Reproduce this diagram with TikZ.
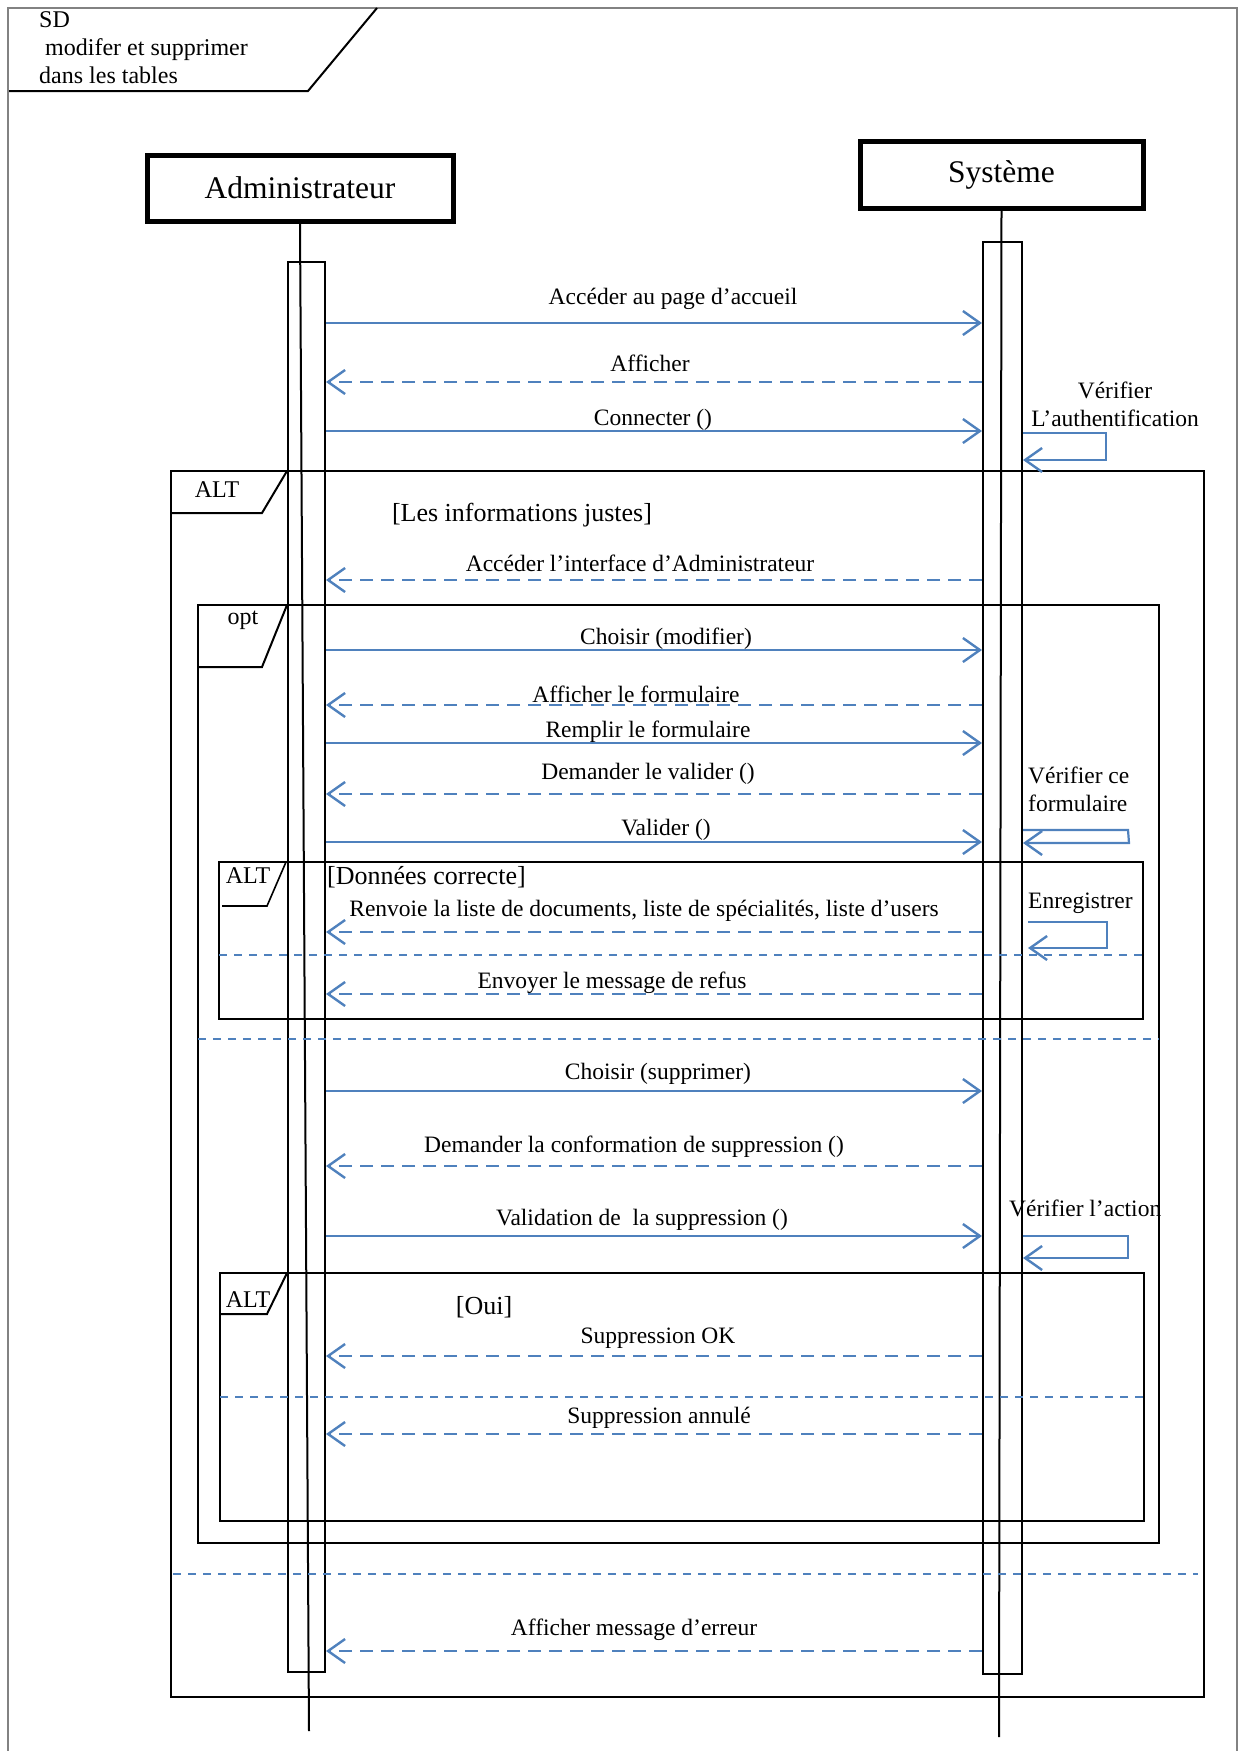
\documentclass[tikz,border=0pt]{standalone}
\usepackage{fontspec}
\setmainfont{Liberation Serif}
\usetikzlibrary{arrows.meta}
\definecolor{msgblue}{RGB}{79,129,189}
\definecolor{framegray}{RGB}{130,130,130}
\begin{document}
\begin{tikzpicture}[x=1pt,y=-1pt,
  sync/.style={draw=msgblue, line width=2.2pt, -{Straight Barb[length=17pt,width=24pt,line width=2.4pt]}},
  reply/.style={sync, dash pattern=on 13pt off 8pt},
  divider/.style={draw=msgblue, line width=1.6pt, dash pattern=on 8pt off 7pt},
  lbl/.style={font=\fontsize{23.5}{28}\selectfont, inner sep=0pt},
  guard/.style={font=\fontsize{26}{30}\selectfont, inner sep=0pt},
  tagtxt/.style={font=\fontsize{24}{28}\selectfont, inner sep=0pt},
  actor/.style={draw, line width=5pt, font=\fontsize{31.5}{36}\selectfont, inner sep=0pt},
  act/.style={draw, line width=2pt, inner sep=0pt},
  life/.style={draw, line width=2pt},
  frm/.style={draw, line width=2pt}
]
\useasboundingbox (0,0) rectangle (1242,1751);
% outer SD frame
\draw[framegray, line width=2.5pt] (8,1751) -- (8,8) -- (1237,8) -- (1237,1751);
\draw[line width=2pt] (9,91) -- (308,91) -- (377,8);
\node[tagtxt, anchor=base west] (sd1) at (39,27) {SD};
\node[tagtxt, anchor=base west] (sd2) at (45,55) {modifer et supprimer};
\node[tagtxt, anchor=base west] (sd3) at (39,83) {dans les tables};

% actors
\node[actor, minimum width=306pt, minimum height=66pt] (admin) at (300,188) {Administrateur};
\node[actor, minimum width=283pt, minimum height=67pt] (sys) at (1001.5,174.5) {Système};

% lifelines
\coordinate (aend) at (309,1731);
\coordinate (send) at (999,1737);
\draw[life] (admin.south) -- (aend);
\draw[life] (sys.south) -- (send);

% activation boxes
\node[act, minimum width=37pt, minimum height=1410pt] (aact) at (306.5,967) {};
\node[act, minimum width=39pt, minimum height=1432pt] (sact) at (1002.5,958) {};

% frames
\draw[frm, line width=2.3pt] (171,471) rectangle (1204,1697);
\draw[frm] (171,513) -- (262,513) -- (287,471);
\node[tagtxt] (alt0) at (217,490) {ALT};
\node[guard] (g0) at (522,515) {[Les informations justes]};

\draw[frm] (198,605) rectangle (1159,1543);
\draw[frm] (198,667) -- (262,667) -- (287,605);
\node[tagtxt] (opt) at (243,620) {opt};

\draw[frm, line width=1.4pt] (219,862) rectangle (1143,1019);
\draw[frm, line width=1.6pt] (222,906) -- (267,906) -- (286,862);
\node[tagtxt] (alt1) at (248,876) {ALT};
\node[guard, anchor=west] (g1) at (327,877) {[Données correcte]};

\draw[frm] (220,1273) rectangle (1144,1521);
\draw[frm] (219,1314) -- (267,1314) -- (287,1273);
\node[tagtxt] (alt2) at (248,1300) {ALT};
\node[guard] (g2) at (484,1307) {[Oui]};

% dividers
\coordinate (d1a) at (219,955);  \coordinate (d1b) at (1143,955);
\coordinate (d2a) at (198,1039); \coordinate (d2b) at (1159,1039);
\coordinate (d3a) at (220,1397); \coordinate (d3b) at (1144,1397);
\coordinate (d4a) at (173,1574); \coordinate (d4b) at (1198,1574);
\draw[divider] (d1a) -- (d1b);
\draw[divider] (d2a) -- (d2b);
\draw[divider] (d3a) -- (d3b);
\draw[divider] (d4a) -- (d4b);

% message levels
\coordinate (m1) at (0,323);
\coordinate (m2) at (0,382);
\coordinate (m3) at (0,431);
\coordinate (m4) at (0,580);
\coordinate (m5) at (0,650);
\coordinate (m6) at (0,705);
\coordinate (m7) at (0,743);
\coordinate (m8) at (0,794);
\coordinate (m9) at (0,842);
\coordinate (m10) at (0,932);
\coordinate (m11) at (0,994);
\coordinate (m12) at (0,1091);
\coordinate (m13) at (0,1166);
\coordinate (m14) at (0,1236);
\coordinate (m15) at (0,1356);
\coordinate (m16) at (0,1434);
\coordinate (m17) at (0,1651);

\draw[sync]  (aact.east |- m1) -- (sact.west |- m1);
\node[lbl] (l1) at (673,299) {Accéder au page d’accueil};
\draw[reply] (sact.west |- m2) -- (aact.east |- m2);
\node[lbl] (l2) at (650,363) {Afficher};
\draw[sync]  (aact.east |- m3) -- (sact.west |- m3);
\node[lbl] (l3) at (653,420) {Connecter ()};
\draw[reply] (sact.west |- m4) -- (aact.east |- m4);
\node[lbl] (l4) at (640,563) {Accéder l’interface d’Administrateur};
\draw[sync]  (aact.east |- m5) -- (sact.west |- m5);
\node[lbl] (l5) at (666,639) {Choisir (modifier)};
\draw[reply] (sact.west |- m6) -- (aact.east |- m6);
\node[lbl] (l6) at (636,694) {Afficher le formulaire};
\draw[sync]  (aact.east |- m7) -- (sact.west |- m7);
\node[lbl] (l7) at (648,732) {Remplir le formulaire};
\draw[reply] (sact.west |- m8) -- (aact.east |- m8);
\node[lbl] (l8) at (648,774) {Demander le valider ()};
\draw[sync]  (aact.east |- m9) -- (sact.west |- m9);
\node[lbl] (l9) at (666,830) {Valider ()};
\draw[reply] (sact.west |- m10) -- (aact.east |- m10);
\node[lbl] (l10) at (644,911) {Renvoie la liste de documents, liste de spécialités, liste d’users};
\draw[reply] (sact.west |- m11) -- (aact.east |- m11);
\node[lbl] (l11) at (612,983) {Envoyer le message de refus};
\draw[sync]  (aact.east |- m12) -- (sact.west |- m12);
\node[lbl] (l12) at (658,1074) {Choisir (supprimer)};
\draw[reply] (sact.west |- m13) -- (aact.east |- m13);
\node[lbl] (l13) at (634,1147) {Demander la conformation de suppression ()};
\draw[sync]  (aact.east |- m14) -- (sact.west |- m14);
\node[lbl] (l14) at (642,1220) {Validation de \ la suppression ()};
\draw[reply] (sact.west |- m15) -- (aact.east |- m15);
\node[lbl] (l15) at (658,1338) {Suppression OK};
\draw[reply] (sact.west |- m16) -- (aact.east |- m16);
\node[lbl] (l16) at (659,1418) {Suppression annulé};
\draw[reply] (sact.west |- m17) -- (aact.east |- m17);
\node[lbl] (l17) at (634,1630) {Afficher message d’erreur};

% self messages
\coordinate (s1a) at (1106,433); \coordinate (s1b) at (1106,460);
\draw[sync] (sact.east |- s1a) -- (s1a) -- (s1b) -- (sact.east |- s1b);
\node[lbl, align=center] (v1) at (1115,404) {Vérifier\\L’authentification};

\coordinate (s2a) at (1128,830); \coordinate (s2b) at (1129,843);
\draw[sync] (sact.east |- s2a) -- (s2a) -- (s2b) -- (sact.east |- s2b);
\node[lbl, align=left, anchor=west] (v2) at (1028,789) {Vérifier ce\\formulaire};

\coordinate (s3a) at (1107,922); \coordinate (s3b) at (1107,948);
\draw[sync] ([xshift=5pt]sact.east |- s3a) -- (s3a) -- (s3b) -- ([xshift=5pt]sact.east |- s3b);
\node[lbl, anchor=west] (v3) at (1028,903) {Enregistrer};

\coordinate (s4a) at (1128,1236); \coordinate (s4b) at (1128,1258);
\draw[sync] (sact.east |- s4a) -- (s4a) -- (s4b) -- (sact.east |- s4b);
\node[lbl, anchor=west] (v4) at (1009,1208) {Vérifier l’action};
\end{tikzpicture}
\end{document}
